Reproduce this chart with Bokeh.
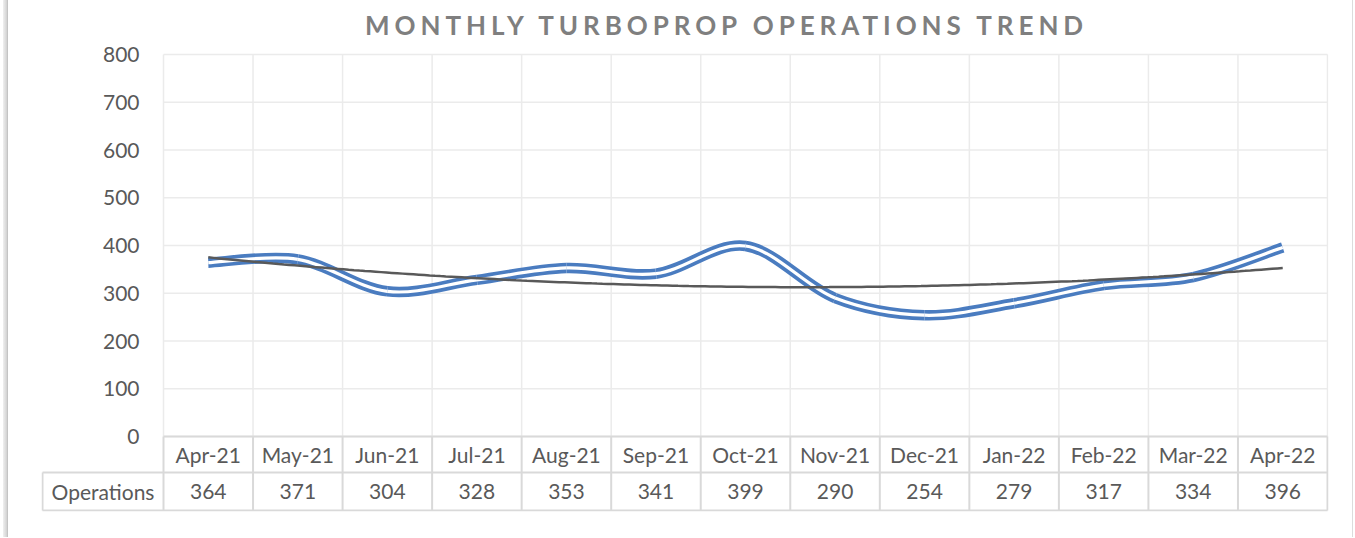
import numpy as np
from bokeh.plotting import figure
from bokeh.models import Range1d, FixedTicker, Div
from bokeh.layouts import column
from bokeh.embed import file_html
from bokeh.resources import INLINE
from bokeh.core.properties import value

# ---------------- data ----------------
months = ["Apr-21", "May-21", "Jun-21", "Jul-21", "Aug-21", "Sep-21", "Oct-21",
          "Nov-21", "Dec-21", "Jan-22", "Feb-22", "Mar-22", "Apr-22"]
operations = [364, 371, 304, 328, 353, 341, 399, 290, 254, 279, 317, 334, 396]
series_name = "Operations"
title_text = "MONTHLY TURBOPROP OPERATIONS TREND"
y_ticks = [0, 100, 200, 300, 400, 500, 600, 700, 800]

# ---------------- style / layout ----------------
FONT = "Lato"
TXT = "#595959"
BLUE = "#4a7cc0"
GRID = "#ebebeb"
TABLE = "#d9d9d9"
FS = "21px"

W, H_TITLE, H_FIG = 1355, 36, 501
FR_L, FR_R, FR_T, FR_B = 41, 1328, 52, 511      # frame edges (page px)
PL_L, PL_R, Y0, Y800 = 163, 1327, 436, 54         # plot-area geometry (page px)
ROW1, ROW2 = 472, 510                            # table row lines (page px)

n = len(months)
xc = np.arange(n) + 0.5
yv = np.array(operations, dtype=float)

px = (Y0 - Y800) / y_ticks[-1]          # px per value unit
unit = (PL_R - PL_L) / n                # px per category
y_top = y_ticks[-1] + (Y800 - FR_T) / px
y_bot = -(FR_B - Y0) / px
x_start = -(PL_L - FR_L) / unit
x_end = n + (FR_R - PL_R) / unit
left = -(PL_L - 42) / unit
r1 = -(ROW1 - Y0) / px
r2 = -(ROW2 - Y0) / px

# smoothed line (Catmull-Rom -> cubic Bezier control points)
P = np.column_stack([xc, yv])
Pe = np.vstack([P[0], P, P[-1]])
p0, p1, p2, p3 = Pe[:-3], Pe[1:-2], Pe[2:-1], Pe[3:]
c1 = p1 + (p2 - p0) / 6.0
c2 = p2 - (p3 - p1) / 6.0

# polynomial (order 2) trendline
coef = np.polyfit(xc, yv, 2)
tx = np.linspace(xc[0], xc[-1], 200)
ty = np.polyval(coef, tx)

# ---------------- title ----------------
title = Div(
    text=f'<div style="margin-left:365px;padding-top:14.5px;line-height:20px;white-space:nowrap;">{title_text}</div>',
    width=W, height=H_TITLE, margin=(0, 0, 0, 0),
    styles={"font-family": "Lato", "font-weight": "bold", "font-size": "26px",
            "color": "#7f7f7f", "letter-spacing": "4.95px"})

# ---------------- chart ----------------
p = figure(width=W, height=H_FIG, x_range=Range1d(x_start, x_end), y_range=Range1d(y_bot, y_top),
           x_axis_location=None, output_backend="svg", toolbar_location=None,
           min_border_left=FR_L, min_border_right=W - FR_R,
           min_border_top=FR_T - H_TITLE, min_border_bottom=H_TITLE + H_FIG - FR_B)
p.outline_line_color = None
p.border_fill_color = None
p.background_fill_color = "white"
p.grid.visible = False

ya = p.yaxis[0]
ya.ticker = FixedTicker(ticks=y_ticks)
ya.axis_line_color = None
ya.major_tick_line_color = None
ya.minor_tick_line_color = None
ya.major_tick_out = 0
ya.major_tick_in = 0
ya.minor_tick_out = 0
ya.major_label_text_font = FONT
ya.major_label_text_font_size = FS
ya.major_label_text_color = TXT
ya.major_label_standoff = -(139 - FR_L)

# gridlines
bounds = list(range(n + 1))
p.segment(x0=[0] * len(y_ticks), y0=y_ticks, x1=[n] * len(y_ticks), y1=y_ticks,
          line_color=GRID, line_width=1.5)
p.segment(x0=bounds, y0=[0] * len(bounds), x1=bounds, y1=[y_ticks[-1]] * len(bounds),
          line_color=GRID, line_width=1.5)

# data table lines
p.segment(x0=bounds, y0=[r2] * len(bounds), x1=bounds, y1=[0] * len(bounds),
          line_color=TABLE, line_width=2)
p.segment(x0=[left], y0=[r2], x1=[left], y1=[r1], line_color=TABLE, line_width=2)
p.segment(x0=[0, left, left], y0=[0, r1, r2], x1=[n, n, n], y1=[0, r1, r2],
          line_color=TABLE, line_width=2)

# table texts
p.text(x=list(xc), y=[r1 / 2] * n, text=months,
       text_align="center", text_baseline="middle", text_font=value(FONT),
       text_font_size=FS, text_color=TXT)
p.text(x=list(xc), y=[(r1 + r2) / 2] * n, text=[str(v) for v in operations],
       text_align="center", text_baseline="middle", text_font=value(FONT),
       text_font_size=FS, text_color=TXT)
p.text(x=[left / 2], y=[(r1 + r2) / 2], text=[series_name],
       text_align="center", text_baseline="middle", text_font=value(FONT),
       text_font_size=FS, text_color=TXT)

# double (compound) blue smoothed line
p.bezier(x0=p1[:, 0], y0=p1[:, 1], x1=p2[:, 0], y1=p2[:, 1],
         cx0=c1[:, 0], cy0=c1[:, 1], cx1=c2[:, 0], cy1=c2[:, 1],
         line_color=BLUE, line_width=10.5)
p.bezier(x0=p1[:, 0], y0=p1[:, 1], x1=p2[:, 0], y1=p2[:, 1],
         cx0=c1[:, 0], cy0=c1[:, 1], cx1=c2[:, 0], cy1=c2[:, 1],
         line_color="white", line_width=3.2)
# trendline
p.line(tx, ty, line_color="#595959", line_width=2.5)

bg = ("linear-gradient(to right, rgba(255,255,255,0) 3px, rgba(0,0,0,0.06) 3px, "
      "rgba(0,0,0,0.18) 7px, #c4c4c4 7px, #c4c4c4 8px, #ffffff 8px, #ffffff 1352px, "
      "#dcdcdc 1352px, #dcdcdc 1353px, #ffffff 1353px)")
layout = column(title, p, styles={"background": bg})
open("out.html", "w").write(file_html(layout, INLINE))
